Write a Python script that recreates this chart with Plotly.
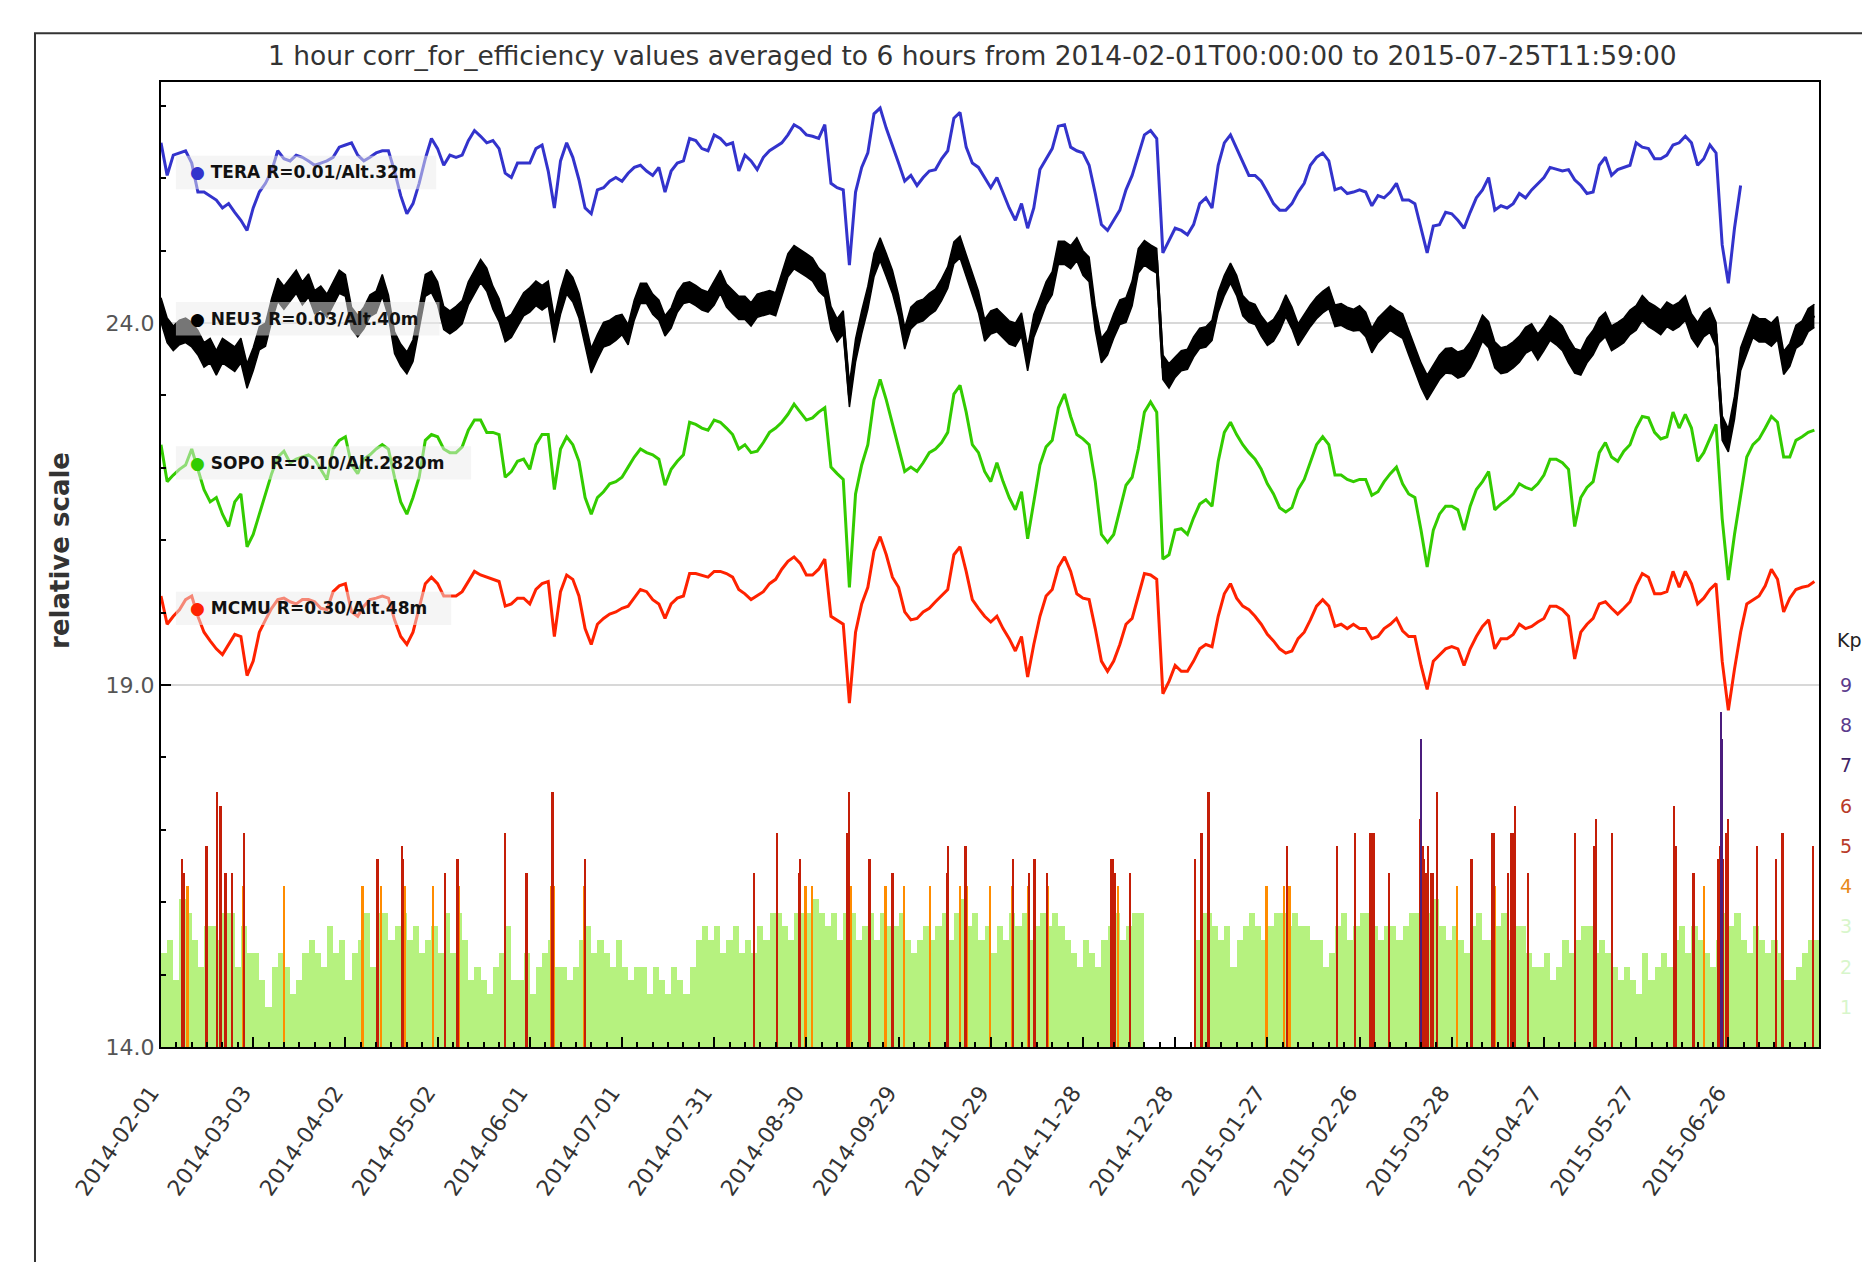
import pandas as pd
import plotly.graph_objects as go

START = pd.Timestamp("2014-02-01")
END = pd.Timestamp("2015-07-25 12:00")
DAY_MS = 86400000

# station counts on a two-day grid (2014-02-01 .. 2015-07-24), relative scale
tera = [
    26.49, 26.04, 26.32, 26.35, 26.38, 26.21, 25.81, 25.81, 25.76, 25.70, 25.59, 25.65, 25.53, 25.42, 25.28, 25.59,
    25.81, 25.93, 26.10, 26.38, 26.27, 26.24, 26.32, 26.29, 26.24, 26.18, 26.21, 26.24, 26.29, 26.43, 26.46, 26.49,
    26.32, 26.24, 26.29, 26.35, 26.38, 26.38, 26.10, 25.76, 25.51, 25.65, 25.93, 26.27, 26.55, 26.41, 26.18,
    26.32, 26.29, 26.32, 26.52, 26.66, 26.58, 26.49, 26.52, 26.41, 26.07, 26.01, 26.21, 26.21, 26.21, 26.41, 26.46,
    26.10, 25.59, 26.24, 26.49, 26.29, 25.98, 25.59, 25.51, 25.84, 25.87, 25.96, 26.01, 25.96, 26.07, 26.15, 26.18,
    26.10, 26.04, 26.15, 25.81, 26.10, 26.21, 26.24, 26.55, 26.52, 26.41, 26.38, 26.60, 26.55, 26.46, 26.49, 26.10,
    26.32, 26.24, 26.12, 26.29, 26.38, 26.43, 26.49, 26.60, 26.74, 26.69, 26.60, 26.58, 26.55, 26.74, 25.93, 25.87,
    25.84, 24.80, 25.81, 26.15, 26.35, 26.89, 26.97, 26.69, 26.46, 26.21, 25.96, 26.04, 25.90, 26.01, 26.10, 26.12,
    26.27, 26.38, 26.83, 26.91, 26.43, 26.21, 26.15, 26.01, 25.87, 26.01, 25.81, 25.59, 25.42, 25.65, 25.31,
    25.59, 26.12, 26.27, 26.41, 26.72, 26.74, 26.43, 26.38, 26.35, 26.18, 25.79, 25.36, 25.28, 25.42, 25.56, 25.84,
    26.04, 26.32, 26.60, 26.66, 26.55, 24.97, 25.14, 25.31, 25.28, 25.22, 25.36, 25.65, 25.73, 25.59, 26.18, 26.49,
    26.60, 26.41, 26.24, 26.04, 26.04, 25.96, 25.81, 25.65, 25.56, 25.56, 25.65, 25.81, 25.93, 26.18, 26.29,
    26.35, 26.24, 25.84, 25.87, 25.79, 25.81, 25.84, 25.81, 25.62, 25.76, 25.73, 25.81, 25.93, 25.70, 25.70, 25.65,
    25.31, 24.97, 25.34, 25.36, 25.53, 25.51, 25.42, 25.31, 25.53, 25.73, 25.84, 26.01, 25.56, 25.62, 25.59, 25.65,
    25.79, 25.73, 25.84, 25.93, 26.01, 26.15, 26.12, 26.10, 26.12, 25.98, 25.90, 25.79, 25.81, 26.18, 26.29,
    26.04, 26.12, 26.15, 26.18, 26.49, 26.43, 26.41, 26.27, 26.27, 26.32, 26.46, 26.49, 26.58, 26.49, 26.18, 26.27,
    26.46, 26.35, 25.08, 24.55, 25.31, 25.90,
    None, None, None, None, None, None, None, None, None, None, None, None,
]
neu3 = [
    24.18, 23.90, 23.79, 23.87, 23.90, 23.84, 23.73, 23.56, 23.62, 23.45, 23.62, 23.56, 23.50, 23.62, 23.27, 23.50,
    23.79, 23.84, 24.18, 24.46, 24.35, 24.46, 24.57, 24.41, 24.52, 24.29, 24.35, 24.24, 24.41, 24.57, 24.52, 24.07,
    23.96, 24.07, 24.24, 24.29, 24.52, 24.24, 23.73, 23.56, 23.45, 23.62, 24.07, 24.52, 24.57, 24.41, 24.07,
    24.01, 24.07, 24.15, 24.41, 24.57, 24.72, 24.60, 24.35, 24.18, 23.90, 23.96, 24.12, 24.26, 24.32, 24.41, 24.35,
    24.41, 23.90, 24.29, 24.57, 24.46, 24.24, 23.84, 23.48, 23.67, 23.84, 23.87, 23.93, 23.98, 23.84, 24.18, 24.41,
    24.41, 24.26, 24.18, 23.96, 24.07, 24.29, 24.41, 24.43, 24.38, 24.32, 24.29, 24.41, 24.57, 24.38, 24.29, 24.21,
    24.21, 24.12, 24.24, 24.26, 24.29, 24.26, 24.52, 24.80, 24.91, 24.86, 24.80, 24.74, 24.60, 24.52, 24.07, 23.90,
    24.01, 23.00, 23.62, 24.01, 24.35, 24.80, 25.02, 24.80, 24.57, 24.24, 23.79, 24.07, 24.15, 24.18, 24.26, 24.32,
    24.46, 24.63, 24.97, 25.05, 24.80, 24.57, 24.29, 23.90, 24.01, 24.04, 23.96, 23.87, 23.84, 23.98, 23.50,
    23.96, 24.18, 24.41, 24.55, 24.97, 24.97, 24.91, 25.02, 24.83, 24.74, 24.07, 23.62, 23.73, 23.96, 24.15, 24.18,
    24.41, 24.86, 24.97, 24.91, 24.86, 23.39, 23.27, 23.39, 23.48, 23.50, 23.67, 23.79, 23.81, 23.90, 24.29, 24.52,
    24.69, 24.52, 24.24, 24.15, 24.12, 23.96, 23.84, 23.90, 24.04, 24.24, 24.07, 23.84, 23.98, 24.10, 24.21,
    24.29, 24.35, 24.10, 24.12, 24.07, 24.04, 24.07, 23.98, 23.76, 23.90, 23.98, 24.07, 24.01, 23.96, 23.73, 23.50,
    23.28, 23.11, 23.25, 23.39, 23.48, 23.48, 23.42, 23.45, 23.56, 23.73, 23.93, 23.84, 23.56, 23.48, 23.50, 23.56,
    23.64, 23.76, 23.81, 23.67, 23.79, 23.93, 23.87, 23.79, 23.62, 23.48, 23.45, 23.62, 23.73, 23.90, 23.98,
    23.79, 23.84, 23.90, 24.01, 24.07, 24.21, 24.12, 24.07, 24.01, 24.12, 24.07, 24.12, 24.21, 23.96, 23.84, 23.98,
    24.04, 23.84, 22.55, 22.38, 22.83, 23.50, 23.73, 23.96, 23.90, 23.90, 23.84, 23.93, 23.45, 23.56, 23.81, 23.87,
    24.04, 24.10,
]
# half-width of the six-hour scatter of NEU3 around its two-day values, per 30-day block
neu3_spread = [0.17, 0.16, 0.15, 0.16, 0.17, 0.14, 0.16, 0.16, 0.15, 0.16, 0.17, 0.14, 0.15, 0.17, 0.18, 0.17, 0.17, 0.16]
sopo = [
    22.32, 21.81, 21.90, 21.98, 22.04, 22.26, 21.98, 21.70, 21.53, 21.59, 21.36, 21.19, 21.53, 21.64, 20.91, 21.08,
    21.36, 21.64, 21.92, 22.15, 22.23, 22.07, 22.12, 22.15, 22.18, 22.12, 21.98, 21.84, 22.26, 22.38, 22.43, 22.04,
    21.92, 22.12, 22.18, 22.26, 22.32, 22.26, 21.87, 21.53, 21.36, 21.59, 21.87, 22.38, 22.46, 22.43, 22.26,
    22.21, 22.21, 22.29, 22.52, 22.66, 22.66, 22.49, 22.49, 22.46, 21.87, 21.95, 22.09, 22.12, 21.98, 22.32, 22.46,
    22.46, 21.70, 22.26, 22.43, 22.32, 22.09, 21.59, 21.36, 21.59, 21.67, 21.78, 21.81, 21.87, 22.01, 22.15, 22.26,
    22.21, 22.18, 22.12, 21.76, 21.98, 22.09, 22.18, 22.63, 22.60, 22.55, 22.52, 22.66, 22.63, 22.55, 22.46, 22.26,
    22.32, 22.21, 22.23, 22.35, 22.49, 22.55, 22.63, 22.74, 22.88, 22.77, 22.66, 22.69, 22.77, 22.83, 22.01, 21.92,
    21.84, 20.35, 21.64, 22.04, 22.32, 22.94, 23.22, 22.94, 22.60, 22.26, 21.95, 22.01, 21.95, 22.07, 22.21, 22.26,
    22.35, 22.49, 23.02, 23.14, 22.77, 22.32, 22.21, 21.95, 21.81, 22.07, 21.81, 21.59, 21.42, 21.67, 21.02,
    21.53, 22.04, 22.29, 22.38, 22.83, 23.02, 22.71, 22.46, 22.40, 22.32, 21.81, 21.08, 20.97, 21.08, 21.42, 21.76,
    21.87, 22.26, 22.77, 22.91, 22.77, 20.74, 20.80, 21.14, 21.16, 21.08, 21.31, 21.50, 21.56, 21.47, 22.09, 22.49,
    22.63, 22.46, 22.32, 22.21, 22.12, 21.98, 21.78, 21.64, 21.45, 21.39, 21.45, 21.70, 21.84, 22.09, 22.32,
    22.43, 22.32, 21.90, 21.90, 21.84, 21.81, 21.84, 21.84, 21.62, 21.67, 21.81, 21.92, 22.01, 21.78, 21.64, 21.59,
    21.14, 20.63, 21.14, 21.36, 21.47, 21.47, 21.42, 21.14, 21.47, 21.70, 21.81, 21.95, 21.42, 21.50, 21.56, 21.64,
    21.78, 21.73, 21.70, 21.78, 21.90, 22.12, 22.12, 22.07, 21.98, 21.19, 21.59, 21.73, 21.81, 22.21, 22.35,
    22.15, 22.09, 22.23, 22.32, 22.55, 22.71, 22.69, 22.49, 22.40, 22.43, 22.77, 22.55, 22.74, 22.55, 22.09, 22.21,
    22.40, 22.60, 21.30, 20.45, 21.08, 21.59, 22.15, 22.32, 22.40, 22.55, 22.71, 22.63, 22.15, 22.15, 22.38, 22.43,
    22.49, 22.52,
]
mcmu = [
    20.23, 19.84, 19.95, 20.04, 20.18, 20.23, 19.95, 19.73, 19.61, 19.50, 19.42, 19.56, 19.70, 19.67, 19.13, 19.33,
    19.73, 19.90, 20.06, 20.18, 20.20, 20.15, 20.12, 20.18, 20.18, 20.15, 20.06, 20.04, 20.29, 20.37, 20.40, 20.01,
    19.95, 20.09, 20.18, 20.20, 20.23, 20.20, 19.90, 19.67, 19.56, 19.73, 20.06, 20.40, 20.49, 20.40, 20.23,
    20.23, 20.23, 20.29, 20.43, 20.57, 20.52, 20.49, 20.46, 20.43, 20.09, 20.12, 20.20, 20.20, 20.12, 20.32, 20.40,
    20.43, 19.67, 20.29, 20.52, 20.46, 20.23, 19.78, 19.56, 19.84, 19.92, 19.98, 20.01, 20.06, 20.09, 20.20, 20.32,
    20.29, 20.18, 20.12, 19.92, 20.12, 20.20, 20.23, 20.54, 20.54, 20.52, 20.49, 20.57, 20.57, 20.54, 20.49, 20.32,
    20.26, 20.18, 20.23, 20.29, 20.40, 20.46, 20.60, 20.71, 20.77, 20.68, 20.52, 20.52, 20.60, 20.74, 19.95, 19.90,
    19.84, 18.75, 19.73, 20.12, 20.35, 20.85, 21.05, 20.80, 20.49, 20.35, 20.01, 19.90, 19.92, 20.01, 20.06, 20.15,
    20.23, 20.32, 20.80, 20.91, 20.57, 20.18, 20.06, 19.95, 19.87, 19.95, 19.78, 19.64, 19.47, 19.67, 19.11,
    19.56, 19.95, 20.23, 20.32, 20.63, 20.77, 20.57, 20.26, 20.20, 20.18, 19.78, 19.33, 19.19, 19.33, 19.56, 19.84,
    19.92, 20.23, 20.54, 20.52, 20.46, 18.88, 19.05, 19.27, 19.19, 19.19, 19.33, 19.50, 19.56, 19.53, 19.95, 20.26,
    20.40, 20.20, 20.09, 20.04, 19.95, 19.84, 19.70, 19.61, 19.50, 19.44, 19.47, 19.64, 19.73, 19.90, 20.09,
    20.18, 20.09, 19.81, 19.84, 19.78, 19.84, 19.78, 19.78, 19.64, 19.67, 19.78, 19.84, 19.92, 19.75, 19.67, 19.67,
    19.27, 18.94, 19.33, 19.42, 19.50, 19.53, 19.50, 19.27, 19.50, 19.67, 19.81, 19.90, 19.50, 19.64, 19.64, 19.70,
    19.84, 19.78, 19.81, 19.87, 19.92, 20.09, 20.09, 20.04, 19.95, 19.36, 19.73, 19.84, 19.92, 20.12, 20.15,
    20.06, 19.98, 20.06, 20.15, 20.37, 20.54, 20.49, 20.26, 20.26, 20.29, 20.57, 20.35, 20.57, 20.40, 20.12, 20.20,
    20.32, 20.40, 19.33, 18.65, 19.22, 19.73, 20.12, 20.18, 20.23, 20.37, 20.60, 20.46, 20.01, 20.20, 20.32, 20.35,
    20.37, 20.43,
]

# quiet-time Kp on the same two-day grid (None = no Kp data)
kp_background = [
    2.33, 2.67, 1.67, 3.67, 3.33, 2.67, 2.0, 3.0, 3.0, 2.67, 3.33, 3.33, 2.0, 3.0, 2.33, 2.33, 1.67, 1.0, 2.0, 2.33,
    2.0, 1.33, 1.67, 2.33, 2.67, 2.33, 2.0, 3.0, 2.33, 2.67, 1.67, 2.33, 2.67, 3.33, 2.0, 3.33, 3.33, 2.67, 3.0, 3.33,
    2.67, 3.0, 2.33, 2.67, 3.0, 2.33, 3.33, 2.33, 3.33, 2.67,
    1.67, 2.0, 1.67, 1.33, 2.0, 2.33, 3.0, 1.67, 1.67, 2.33, 1.33, 2.0, 2.33, 2.67, 2.0, 2.0, 1.67, 2.0, 2.67, 3.0,
    2.33, 2.67, 2.33, 2.0, 2.67, 2.0, 1.67, 2.0, 2.0, 1.33, 2.0, 1.67, 1.33, 2.0, 1.67, 1.33, 2.0, 2.67, 3.0, 2.67,
    3.0, 2.33, 2.67, 3.0, 2.33, 2.67, 2.33, 3.0, 2.67, 3.33,
    3.33, 3.0, 2.67, 3.33, 3.33, 3.33, 3.67, 3.33, 3.0, 3.33, 2.67, 3.33, 3.33, 2.67, 3.0, 3.33, 2.67, 3.33, 3.0, 3.0,
    3.33, 2.67, 2.33, 2.67, 3.0, 2.67, 3.0, 3.33, 2.67, 3.33, 3.67, 3.0, 3.33, 2.67, 3.0, 2.33, 3.0, 2.67, 3.33, 3.0,
    3.33, 2.67, 3.0, 3.33, 3.0, 3.33, 3.0, 2.67, 2.33, 2.0,
    2.67, 2.33, 2.0, 2.67, 3.0, 3.33, 2.67, 3.0, 3.33, 3.33, None, None, None, None, None, None, None, None,
    2.67, 3.33, 3.33, 3.0, 2.67, 3.0, 2.0, 2.67, 3.0, 3.33, 3.0, 2.67, 3.0, 3.33, 3.33, 3.0, 3.33, 3.0, 3.0, 2.67,
    2.67, 2.0, 2.33, 3.0, 3.33, 2.67, 3.0, 3.33, 3.33, 3.0, 2.67, 3.0,
    3.0, 2.67, 3.0, 3.33, 3.33, 3.67, 3.33, 3.67, 3.0, 2.67, 3.0, 2.67, 2.33, 3.0, 3.33, 2.67, 2.67, 3.0, 3.33, 2.67,
    3.0, 3.0, 2.33, 2.0, 2.0, 2.33, 1.67, 2.0, 2.67, 2.33, 2.67, 3.0, 3.0, 2.33, 2.67, 2.33, 2.0, 1.67, 2.0, 1.67,
    1.33, 2.33, 1.67, 2.0, 2.33, 2.0, 2.67, 3.0, 2.33, 3.0,
    2.67, 2.33, 2.0, 2.67, 3.33, 3.0, 3.33, 2.67, 2.33, 3.0, 2.67, 2.33, 2.67, 2.33, 1.67, 1.67, 2.0, 2.33, 2.67, 2.67,
]

# disturbed three-hour intervals: days after 2014-02-01 and their Kp
kp_storm_day = [
    6.8, 7.3, 8.6, 14.8, 18.3, 19.1, 19.4, 21.0, 23.1, 26.6, 27.1, 40.0, 65.6, 70.4, 71.6, 78.4, 78.7, 79.2, 88.4,
    92.4, 96.5, 97.0, 112.0, 118.9, 127.0, 127.4, 127.8, 137.6, 138.0, 193.0, 200.4, 207.6, 208.0, 209.7, 211.9,
    223.4, 223.9, 224.5, 230.3, 230.6, 235.7, 238.0, 241.8, 250.3, 255.7, 256.0, 260.0, 261.8, 262.2, 269.7,
    276.9, 277.3, 282.1, 282.4, 284.2, 288.2, 288.6, 309.2, 309.6, 310.3, 311.5, 315.2, 336.4, 338.4, 338.7,
    340.8, 341.1, 359.7, 365.5, 366.4, 367.2, 382.6, 388.6, 393.3, 394.2, 394.5, 399.6, 409.6, 410.1, 410.6,
    411.0, 411.5, 412.2, 413.2, 414.0, 415.1, 421.6, 426.4, 433.2, 433.6, 434.1, 438.2, 439.4, 440.1, 440.5,
    444.9, 460.0, 466.3, 466.6, 467.0, 472.2, 492.4, 492.9, 498.6, 498.9, 502.0, 506.6, 507.2, 507.6, 507.9,
    508.3, 509.3, 510.0, 519.4, 525.5, 527.4, 527.8, 537.5,
]
kp_storm_val = [
    4.67, 4.33, 4.0, 5.0, 6.33, 6.0, 6.0, 4.33, 4.33, 4.0, 5.33, 4.0, 4.0, 4.67, 4.0, 5.0, 4.67, 4.0, 4.0,
    4.33, 4.67, 4.0, 5.33, 4.33, 4.0, 6.33, 4.0, 4.0, 4.67, 4.33, 5.33, 4.33, 4.67, 4.0, 4.0,
    5.33, 6.33, 4.0, 4.67, 4.67, 4.0, 4.33, 4.0, 4.0, 4.33, 5.0, 4.0, 5.0, 4.0, 4.0,
    4.0, 4.67, 4.0, 4.33, 4.67, 4.33, 4.0, 4.67, 4.67, 4.33, 4.0, 4.33, 4.67, 5.33, 5.33,
    6.33, 4.0, 4.0, 4.0, 5.0, 4.0, 5.0, 5.33, 5.33, 5.33, 5.33, 4.33, 5.67, 7.67, 5.0,
    4.67, 4.33, 5.0, 4.33, 4.33, 6.33, 4.0, 4.67, 5.33, 5.33, 4.0, 4.33, 5.33, 5.33, 6.0,
    4.33, 5.33, 5.0, 5.0, 5.67, 5.33, 6.0, 5.0, 4.33, 4.33, 4.0, 4.67, 5.0, 8.33, 7.67,
    4.67, 5.33, 5.67, 5.0, 4.67, 5.33, 5.33, 5.0,
]

stations = [
    ("TERA R=0.01/Alt.32m", tera, "#3333cc", 3.0),
    ("NEU3 R=0.03/Alt.40m", neu3, "#000000", 3.0),
    ("SOPO R=0.10/Alt.2820m", sopo, "#33cc00", 3.0),
    ("MCMU R=0.30/Alt.48m", mcmu, "#ff2200", 3.0),
]
label_level = [26.08, 24.06, 22.07, 20.06]
label_box_right = [0.166, 0.168, 0.187, 0.175]

kp_legend = [9, 8, 7, 6, 5, 4, 3, 2, 1]
kp_legend_colors = ["#5b3b8c", "#5b3b8c", "#3f2266", "#b83a28", "#b83a28", "#e8891a", "#d8f6cb", "#d8f6cb", "#d8f6cb"]

KP_BASE = 14.0
KP_UNIT = 5.0 / 9.0  # Kp 9 reaches 19.0 on the relative scale
BLOCK = 15           # grid points per 30-day block

dates = pd.date_range(START, periods=len(mcmu), freq="2D")

fig = go.Figure()

# Kp histogram: quiet background first, disturbed intervals on top
bg_x = [d + pd.Timedelta(days=1) for d in dates]
bg_h = [None if k is None else k * KP_UNIT for k in kp_background]
fig.add_trace(go.Bar(
    x=bg_x, y=bg_h, base=KP_BASE, width=2 * DAY_MS,
    marker=dict(color="#b6f27f", line=dict(width=0)), hoverinfo="skip",
))

storm_groups = {"#ff8c00": ([], []), "#c41e08": ([], []), "#4b1d7d": ([], [])}
for day, kp in zip(kp_storm_day, kp_storm_val):
    t = START + pd.to_timedelta(day, unit="D")
    if kp >= 7:
        key = "#4b1d7d"
    elif kp > 4.1:
        key = "#c41e08"
    else:
        key = "#ff8c00"
    storm_groups[key][0].append(t)
    storm_groups[key][1].append(kp * KP_UNIT)
for color, (xs, hs) in storm_groups.items():
    fig.add_trace(go.Bar(
        x=xs, y=hs, base=KP_BASE, width=0.75 * DAY_MS,
        marker=dict(color=color, line=dict(width=0)), hoverinfo="skip",
    ))

# NEU3 scatter band (drawn under its line)
spread = [neu3_spread[i // BLOCK] for i in range(len(neu3))]
fig.add_trace(go.Scatter(
    x=dates, y=[v + s for v, s in zip(neu3, spread)], mode="lines",
    line=dict(color="#000000", width=1.5), hoverinfo="skip",
))
fig.add_trace(go.Scatter(
    x=dates, y=[v - s for v, s in zip(neu3, spread)], mode="lines",
    line=dict(color="#000000", width=1.5), fill="tonexty", fillcolor="#000000", hoverinfo="skip",
))

for name, values, color, lw in stations:
    fig.add_trace(go.Scatter(
        x=dates, y=values, mode="lines", name=name,
        line=dict(color=color, width=lw), connectgaps=False,
    ))

shapes = []
annotations = []

# station tags: translucent boxes over the curves
for (name, values, color, lw), level, right in zip(stations, label_level, label_box_right):
    shapes.append(dict(
        type="rect", xref="paper", yref="y", x0=0.009, x1=right,
        y0=level - 0.23, y1=level + 0.23, layer="above",
        fillcolor="rgba(236,236,236,0.5)", line=dict(width=0),
    ))
    annotations.append(dict(
        xref="paper", yref="y", x=0.016, y=level, xanchor="left", yanchor="middle",
        text=f'<span style="color:{color}">●</span> {name}', showarrow=False,
        font=dict(family="DejaVu Sans", size=17, color="#111111", weight="bold"),
    ))

# Kp colour key right of the frame
annotations.append(dict(
    xref="paper", yref="y", x=1.0095, y=19.62, xanchor="left", yanchor="middle",
    text="Kp", showarrow=False, font=dict(family="DejaVu Sans", size=19, color="#222222"),
))
for k, c in zip(kp_legend, kp_legend_colors):
    annotations.append(dict(
        xref="paper", yref="y", x=1.0115, y=KP_BASE + k * KP_UNIT, xanchor="left", yanchor="middle",
        text=str(k), showarrow=False, font=dict(family="DejaVu Sans", size=19, color=c),
    ))

annotations.append(dict(
    xref="paper", yref="paper", x=0.4895, y=1.027, xanchor="center", yanchor="middle",
    text="1 hour corr_for_efficiency values averaged to 6 hours from 2014-02-01T00:00:00 to 2015-07-25T11:59:00",
    showarrow=False, font=dict(family="DejaVu Sans", size=26.5, color="#333333"),
))
annotations.append(dict(
    xref="paper", yref="paper", x=-0.061, y=0.515, xanchor="center", yanchor="middle",
    text="relative scale", textangle=-90, showarrow=False,
    font=dict(family="DejaVu Sans", size=26, color="#333333", weight="bold"),
))

# outer page frame
shapes.append(dict(
    type="rect", xref="paper", yref="paper", x0=-0.076, x1=1.06, y0=-0.3, y1=1.0505,
    line=dict(color="#333333", width=2), fillcolor="rgba(0,0,0,0)", layer="below",
))

fig.update_layout(
    width=1862, height=1262,
    margin=dict(l=161, r=43, t=82, b=215, autoexpand=False),
    paper_bgcolor="white", plot_bgcolor="white",
    showlegend=False, barmode="overlay", bargap=0,
    shapes=shapes, annotations=annotations,
    font=dict(family="DejaVu Sans"),
)
fig.update_xaxes(
    type="date", range=[START, END],
    tickmode="linear", tick0=START, dtick=30 * DAY_MS, tickformat="%Y-%m-%d", tickangle=-55,
    ticks="inside", ticklen=10, tickwidth=1.5, tickcolor="#000000",
    ticklabelstandoff=22, ticklabelshift=-10,
    minor=dict(tickmode="linear", tick0=START, dtick=5 * DAY_MS, ticks="inside", ticklen=5, tickcolor="#000000", showgrid=False),
    showgrid=False, showline=True, linecolor="#000000", linewidth=2, mirror=True,
    tickfont=dict(family="DejaVu Sans", size=22, color="#333333"), zeroline=False,
)
fig.update_yaxes(
    range=[14, 27.33],
    tickmode="array", tickvals=[14, 19, 24], ticktext=["14.0", "19.0", "24.0"],
    ticks="inside", ticklen=10, tickwidth=1.5, tickcolor="#000000",
    minor=dict(tickmode="linear", tick0=14, dtick=1, ticks="inside", ticklen=5, tickcolor="#000000", showgrid=False),
    showgrid=True, gridcolor="#d8d8d8", gridwidth=1.5,
    showline=True, linecolor="#000000", linewidth=2, mirror=True,
    tickfont=dict(family="DejaVu Sans", size=22, color="#555555"), zeroline=False,
)

fig.write_html("out.html")
